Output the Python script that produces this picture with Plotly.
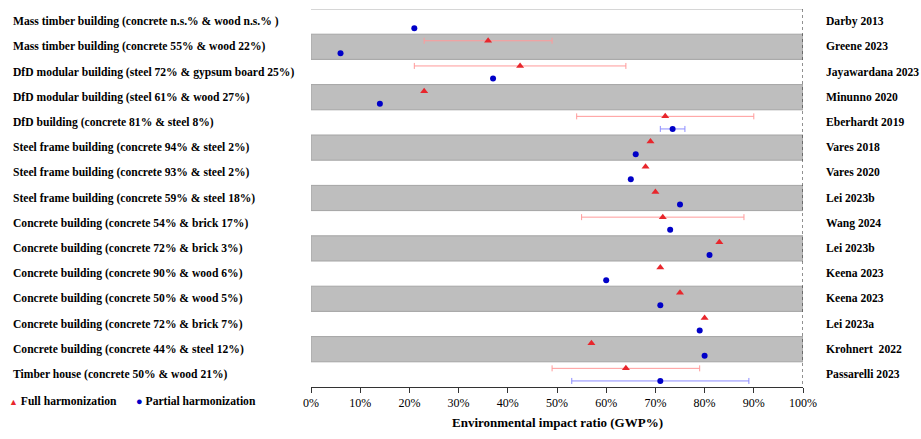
import plotly.graph_objects as go

buildings = [
    "Mass timber building (concrete n.s.% & wood n.s.% )",
    "Mass timber building (concrete 55% & wood 22%)",
    "DfD modular building (steel 72% & gypsum board 25%)",
    "DfD modular building (steel 61% & wood 27%)",
    "DfD building (concrete 81% & steel 8%)",
    "Steel frame building (concrete 94% & steel 2%)",
    "Steel frame building (concrete 93% & steel 2%)",
    "Steel frame building (concrete 59% & steel 18%)",
    "Concrete building (concrete 54% & brick 17%)",
    "Concrete building (concrete 72% & brick 3%)",
    "Concrete building (concrete 90% & wood 6%)",
    "Concrete building (concrete 50% & wood 5%)",
    "Concrete building (concrete 72% & brick 7%)",
    "Concrete building (concrete 44% & steel 12%)",
    "Timber house (concrete 50% & wood 21%)",
]
studies = [
    "Darby 2013", "Greene 2023", "Jayawardana 2023", "Minunno 2020",
    "Eberhardt 2019", "Vares 2018", "Vares 2020", "Lei 2023b", "Wang 2024",
    "Lei 2023b", "Keena 2023", "Keena 2023", "Lei 2023a", "Krohnert  2022",
    "Passarelli 2023",
]
full_val = [None, 36, 42.5, 23, 72, 69, 68, 70, 71.5, 83, 71, 75, 80, 57, 64]
full_low = [None, 23, 21, None, 54, None, None, None, 55, None, None, None, None, None, 49]
full_high = [None, 49, 64, None, 90, None, None, None, 88, None, None, None, None, None, 79]
part_val = [21, 6, 37, 14, 73.5, 66, 65, 75, 73, 81, 60, 71, 79, 80, 71]
part_low = [None, None, None, None, 71, None, None, None, None, None, None, None, None, None, 53]
part_high = [None, None, None, None, 76, None, None, None, None, None, None, None, None, None, 89]
x_ticks = [0, 10, 20, 30, 40, 50, 60, 70, 80, 90, 100]

FONT = "Liberation Serif"
LBL = 11.6
n = len(buildings)
rows = list(range(1, n + 1))
OFF_F, OFF_P = -0.24, 0.26

fig = go.Figure()

def add_series(vals, lows, highs, off, color, ecolor, symbol, size):
    ex, ey, ep, em = [], [], [], []
    for r, v, lo, hi in zip(rows, vals, lows, highs):
        if v is not None and lo is not None and hi is not None:
            ex.append(v); ey.append(r + off); ep.append(hi - v); em.append(v - lo)
    fig.add_trace(go.Scatter(
        x=ex, y=ey, mode="markers", marker=dict(size=2, opacity=0),
        error_x=dict(type="data", symmetric=False, array=ep, arrayminus=em,
                     color=ecolor, thickness=1, width=3),
        showlegend=False, hoverinfo="skip"))
    mx, my = [], []
    for r, v in zip(rows, vals):
        if v is not None:
            mx.append(v); my.append(r + off)
    fig.add_trace(go.Scatter(
        x=mx, y=my, mode="markers",
        marker=dict(symbol=symbol, size=size, color=color, line=dict(width=0)),
        showlegend=False))

add_series(full_val, full_low, full_high, OFF_F, "#e8262c", "#ff9a9a", "triangle-up", 7)
add_series(part_val, part_low, part_high, OFF_P, "#0000c8", "#8c8cff", "circle", 6)

shapes = []
for r in rows:
    if r % 2 == 0:
        shapes.append(dict(type="rect", xref="x", yref="y", x0=0, x1=100,
                           y0=r - 0.5, y1=r + 0.5, fillcolor="#bebebe",
                           line=dict(color="#a4a4a4", width=1), layer="below"))
shapes.append(dict(type="line", xref="x", yref="y", x0=0, x1=100, y0=0.5, y1=0.5,
                   line=dict(color="#c8c8c8", width=1.5), layer="below"))
shapes.append(dict(type="line", xref="x", yref="y", x0=100, x1=100, y0=0.5, y1=n + 0.5,
                   line=dict(color="#222222", width=1, dash="dot")))

ann = []
for r, b, s in zip(rows, buildings, studies):
    ann.append(dict(x=-0.6104, xref="paper", y=r, yref="y", text="<b>%s</b>" % b,
                    showarrow=False, xanchor="left", yanchor="middle",
                    font=dict(family=FONT, size=LBL, color="black")))
    ann.append(dict(x=1.0421, xref="paper", y=r, yref="y", text="<b>%s</b>" % s,
                    showarrow=False, xanchor="left", yanchor="middle",
                    font=dict(family=FONT, size=LBL, color="black")))
ann.append(dict(x=-0.617, xref="paper", y=-0.039, yref="paper",
                text="<span style='color:#e8262c;font-size:9px'>▲</span> <b>Full harmonization</b>",
                showarrow=False, xanchor="left", yanchor="middle",
                font=dict(family=FONT, size=LBL, color="black")))
ann.append(dict(x=-0.36, xref="paper", y=-0.039, yref="paper",
                text="<span style='color:#0000c8;font-size:11px'>●</span> <b>Partial harmonization</b>",
                showarrow=False, xanchor="left", yanchor="middle",
                font=dict(family=FONT, size=LBL, color="black")))
ann.append(dict(x=0.5, xref="paper", y=-0.093, yref="paper",
                text="<b>Environmental impact ratio (GWP%)</b>",
                showarrow=False, xanchor="center", yanchor="middle",
                font=dict(family=FONT, size=13, color="black")))

fig.update_layout(
    width=921, height=439,
    margin=dict(l=311, r=118, t=9, b=52),
    plot_bgcolor="white", paper_bgcolor="white",
    shapes=shapes, annotations=ann,
    xaxis=dict(range=[0, 100], tickvals=x_ticks, ticktext=["%d%%" % t for t in x_ticks],
               showgrid=False, zeroline=False, showline=True, linecolor="#333333",
               linewidth=1, ticks="outside", ticklen=5, tickcolor="#333333",
               tickfont=dict(family=FONT, size=12, color="black")),
    yaxis=dict(range=[n + 0.5, 0.5], showgrid=False, zeroline=False,
               showticklabels=False, showline=False),
)

fig.write_html("out.html")
